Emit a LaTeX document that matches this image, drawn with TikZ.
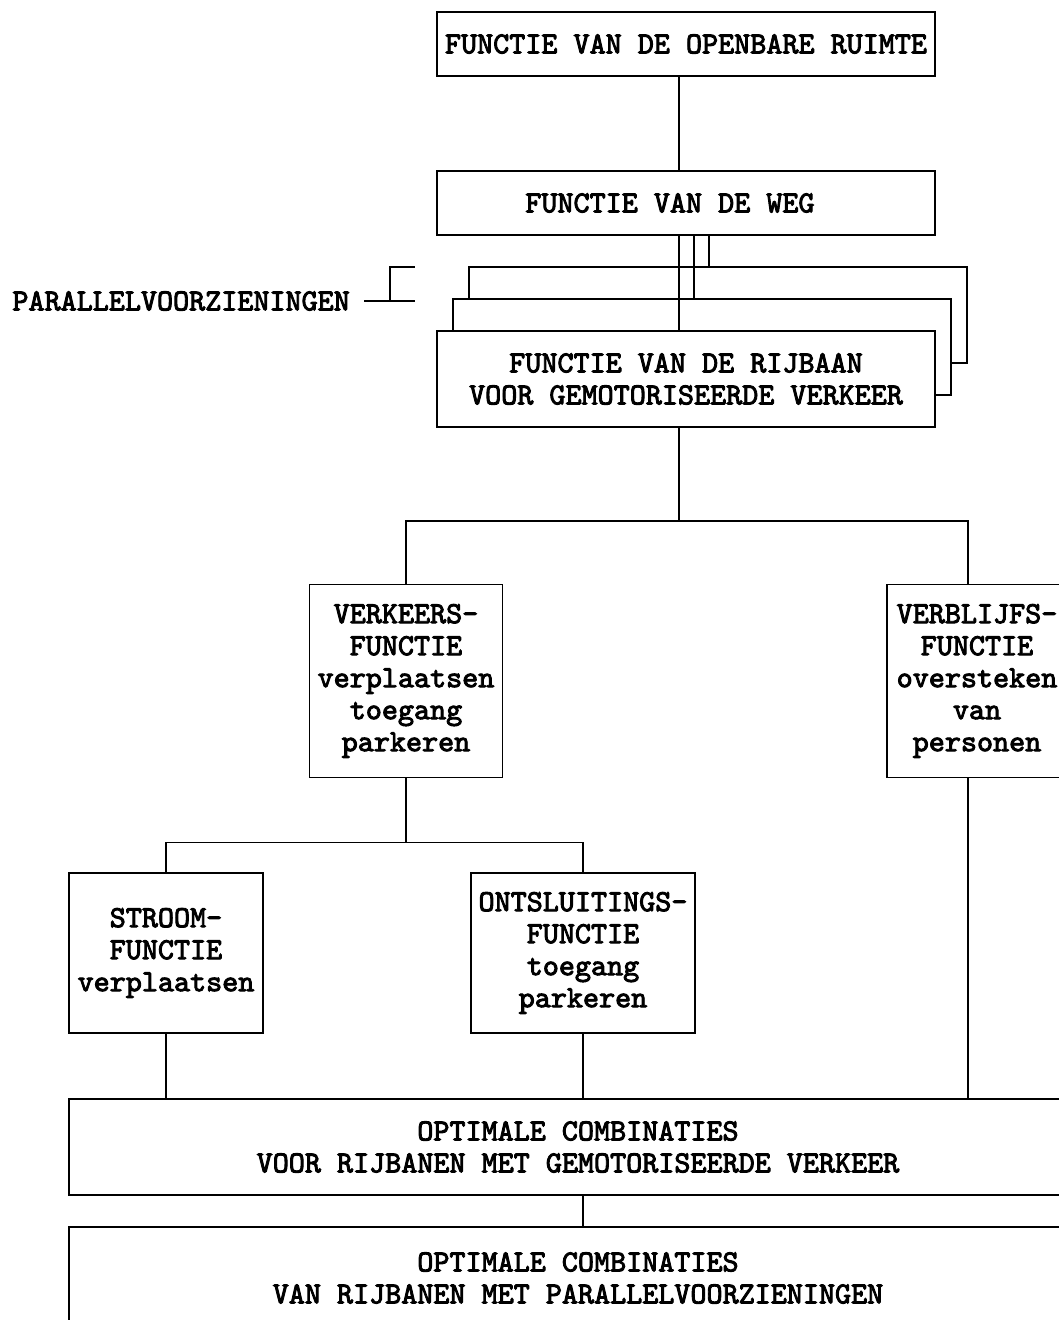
\documentclass[tikz,border=0pt]{standalone}
\usepackage{fontspec}
\newfontfamily\typfont{lmmono10-regular}[Extension=.otf, FakeBold=3]
\tikzset{
  blok/.style={draw, line width=1.8pt, fill=white, inner sep=0pt, align=center,
    font=\typfont\fontsize{30.6}{32}\selectfont},
  tekst/.style={inner sep=0pt, font=\typfont\fontsize{30.6}{32}\selectfont},
  lijn/.style={line width=1.8pt},
}
\begin{document}
\begin{tikzpicture}[x=1pt,y=-1pt]
  \useasboundingbox (0,0) rectangle (1058,1320);

  %bovenste blokken
  \node[blok, minimum width=498, minimum height=64] (ruimte) at (686,44) {FUNCTIE VAN DE OPENBARE RUIMTE};
  \node[blok, minimum width=498, minimum height=64] (weg) at (686,203) {FUNCTIE VAN DE WEG\phantom{XX}};

  %rijbanen, gestapeld
  \node[blok, minimum width=498, minimum height=96] (rijbaanC) at (718,315) {};
  \node[blok, minimum width=498, minimum height=96] (rijbaanB) at (702,347) {};
  \node[blok, minimum width=498, minimum height=96] (rijbaan) at (686,379) {FUNCTIE VAN DE RIJBAAN\\VOOR GEMOTORISEERDE VERKEER};

  \draw[lijn] ([xshift=-7]ruimte.south) -- ([xshift=-7]weg.north);
  \draw[lijn] ([xshift=-7]weg.south) -- ([xshift=-7]rijbaan.north);
  \draw[lijn] ([xshift=8]weg.south) -- ([xshift=-8]rijbaanB.north);
  \draw[lijn] ([xshift=23]weg.south) -- ([xshift=-9]rijbaanC.north);

  %parallelvoorzieningen
  \node[tekst, anchor=east] (parallel) at (350,301) {PARALLELVOORZIENINGEN};
  \coordinate (haakboven) at (415,267);
  \coordinate (haakonder) at (415,300);
  \draw[lijn] ([xshift=14]parallel.east) -- (parallel.east -| haakonder);
  \draw[lijn] ([xshift=-25]haakonder) -- ([xshift=-25]haakboven) -- (haakboven);

  %functies
  \node[blok, minimum width=193, minimum height=193] (verkeer) at (406,681) {VERKEERS-\\FUNCTIE\\verplaatsen\\toegang\\parkeren};
  \node[blok, minimum width=180, minimum height=193] (verblijf) at (977,681) {VERBLIJFS-\\FUNCTIE\\oversteken\\van\\personen};
  \node[blok, minimum width=194, minimum height=160] (stroom) at (166,953) {STROOM-\\FUNCTIE\\verplaatsen};
  \node[blok, minimum width=224, minimum height=160] (ontsl) at (583,953) {ONTSLUITINGS-\\FUNCTIE\\toegang\\parkeren};

  \coordinate (knoop1) at (679,521);
  \draw[lijn] ([xshift=-7]rijbaan.south) -- (knoop1);
  \draw[lijn] (verkeer.north) |- (knoop1) -| ([xshift=-9]verblijf.north);
  \draw[lijn] (verkeer.south) -- ++(0,64) coordinate (knoop2);
  \draw[lijn] (stroom.north) |- (knoop2) -| (ontsl.north);

  %combinaties
  \node[blok, minimum width=1018, minimum height=96] (opt1) at (578,1147) {OPTIMALE COMBINATIES\\VOOR RIJBANEN MET GEMOTORISEERDE VERKEER};
  \node[blok, minimum width=1018, minimum height=102] (opt2) at (578,1278) {OPTIMALE COMBINATIES\\VAN RIJBANEN MET PARALLELVOORZIENINGEN};

  \draw[lijn] (stroom.south) -- (stroom.south |- opt1.north);
  \draw[lijn] (ontsl.south) -- (ontsl.south |- opt1.north);
  \draw[lijn] ([xshift=-9]verblijf.south) -- ([xshift=-9]verblijf.south |- opt1.north);
  \draw[lijn] ([xshift=5]opt1.south) -- ([xshift=5]opt2.north);
\end{tikzpicture}
\end{document}
